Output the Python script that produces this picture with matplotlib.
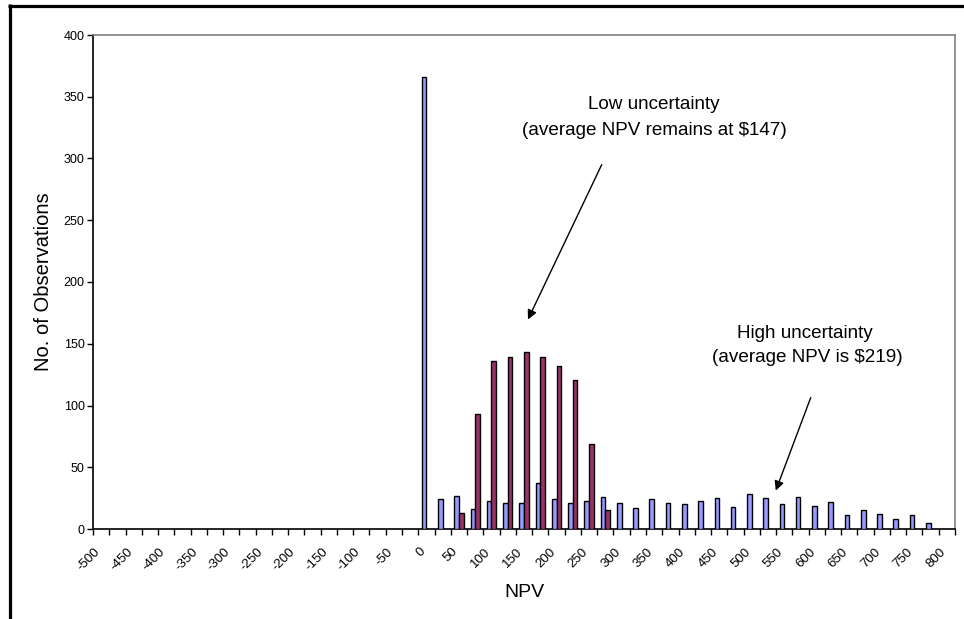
import matplotlib.pyplot as plt
import numpy as np
from matplotlib.lines import Line2D

plt.rcParams['font.family'] = ['Liberation Sans', 'DejaVu Sans']

# NPV bins (category axis, step 25)
categories = list(range(-500, 825, 25))
tick_labels = [str(c) if c % 50 == 0 else "" for c in categories]

# high uncertainty histogram (bins with observations)
high_npv = [0, 25, 50, 75, 100, 125, 150, 175, 200, 225, 250, 275, 300, 325, 350, 375,
            400, 425, 450, 475, 500, 525, 550, 575, 600, 625, 650, 675, 700, 725, 750, 775]
high_count = [366, 24, 27, 16, 23, 21, 21, 37, 24, 21, 23, 26, 21, 17, 24, 21,
              20, 23, 25, 18, 28, 25, 20, 26, 19, 22, 11, 15, 12, 8, 11, 5]

# low uncertainty histogram
low_npv = [50, 75, 100, 125, 150, 175, 200, 225, 250, 275]
low_count = [13, 93, 136, 139, 143, 139, 132, 121, 69, 15]

fig = plt.figure(figsize=(9.64, 6.19), dpi=100)
ax = fig.add_axes([93/964, 1-529/619, (955-93)/964, (529-35)/619])

pos = {c: i for i, c in enumerate(categories)}
w = 0.286
hx = [pos[c] - w/2 for c in high_npv]
lx = [pos[c] + w/2 for c in low_npv]
ax.bar(hx, high_count, width=w, color="#9999FF", edgecolor="black", linewidth=1, zorder=3)
ax.bar(lx, low_count, width=w, color="#993366", edgecolor="black", linewidth=1, zorder=3)

ax.set_xlim(-0.5, len(categories) - 0.5)
ax.set_ylim(0, 400)
ax.set_yticks(np.arange(0, 401, 50))
ax.tick_params(axis="y", labelsize=9, length=4, width=1, direction="out", pad=2)

# labels sit with their upper-right corner just left of the bin centre
idx = [i for i, t in enumerate(tick_labels) if t]
ax.set_xticks([i - 0.45 for i in idx])
ax.set_xticklabels([tick_labels[i] for i in idx], rotation=45, ha="right",
                   rotation_mode="anchor", fontsize=9.5)
ax.set_xticks(np.arange(-0.5, len(categories), 1), minor=True)
ax.tick_params(axis="x", which="major", length=0, pad=12)
ax.tick_params(axis="x", which="minor", length=4, width=1, direction="out")

for s in ["left", "bottom"]:
    ax.spines[s].set_color("black")
    ax.spines[s].set_linewidth(1.2)
for s in ["top", "right"]:
    ax.spines[s].set_color("#808080")
    ax.spines[s].set_linewidth(1.2)

ax.set_ylabel("No. of Observations", fontsize=14.5)
ax.yaxis.set_label_coords(-0.046, 0.5)
ax.set_xlabel("NPV", fontsize=14, labelpad=8)

# annotations
fs = 13.6
ax.text(34.0, 344, "Low uncertainty", ha="center", va="center", fontsize=fs)
ax.text(34.0, 323, "(average NPV remains at $147)", ha="center", va="center", fontsize=fs)
ax.annotate("", xy=(26.17, 167.6), xytext=(30.85, 297),
            arrowprops=dict(arrowstyle="-|>", color="black", lw=1, mutation_scale=14))

ax.text(43.3, 158, "High uncertainty", ha="center", va="center", fontsize=fs)
ax.text(43.4, 138.5, "(average NPV is $219)", ha="center", va="center", fontsize=fs)
ax.annotate("", xy=(41.42, 29), xytext=(43.69, 108.5),
            arrowprops=dict(arrowstyle="-|>", color="black", lw=1, mutation_scale=14))

# outer frame (top and left edges)
fig.add_artist(Line2D([8/964, 1], [1-5.5/619, 1-5.5/619], color="black", lw=2.3,
                      solid_capstyle="butt", transform=fig.transFigure))
fig.add_artist(Line2D([9.5/964, 9.5/964], [0, 1-4/619], color="black", lw=2.3,
                      solid_capstyle="butt", transform=fig.transFigure))

fig.savefig("out.png", dpi=100)
